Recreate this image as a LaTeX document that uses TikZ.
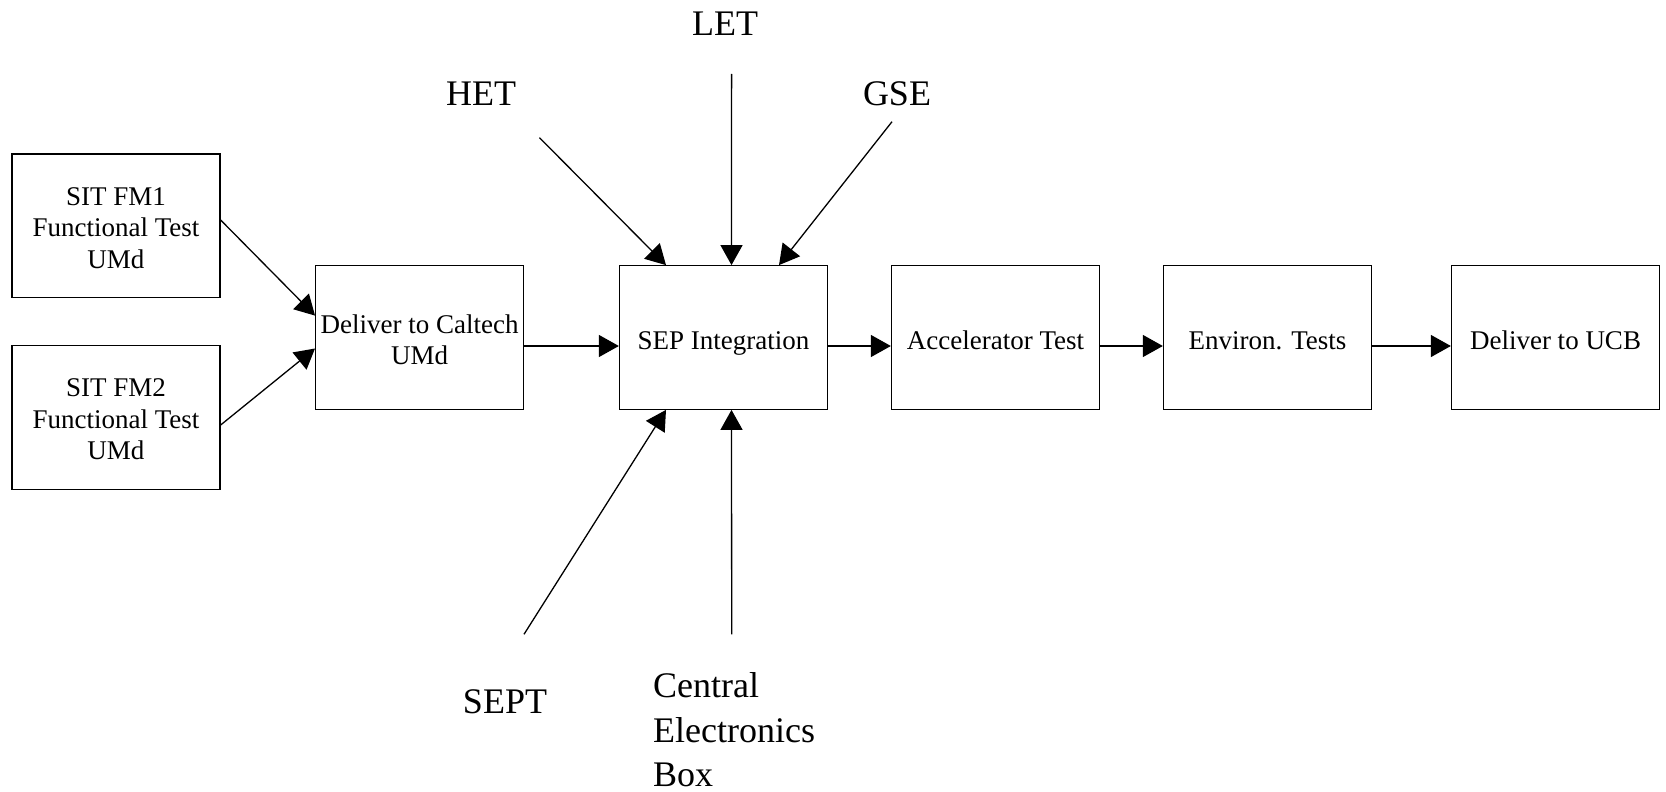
\documentclass[tikz,border=0pt]{standalone}
\usepackage{fontspec}
\setmainfont{Liberation Serif}
\usetikzlibrary{arrows.meta,calc}
\newcommand{\stk}[1]{\begin{tabular}[t]{@{}c@{}}#1\end{tabular}}
\newcommand{\stkl}[1]{\begin{tabular}[t]{@{}l@{}}#1\end{tabular}}
\tikzset{
  box/.style={draw, line width=1.3pt, minimum width=208pt, minimum height=143.5pt, inner sep=0pt},
  boxtext/.style={inner sep=0pt, font=\fontsize{27}{31.5}\selectfont},
  biglabel/.style={inner sep=0pt, font=\fontsize{36}{44.5}\selectfont},
  conn/.style={line width=1.3pt, -{Triangle[length=20pt,width=22pt]}}
}
\begin{document}
\begin{tikzpicture}[x=1pt,y=-1pt]
\useasboundingbox (0,0) rectangle (1666,792);
% boxes
\node[box, label={[boxtext, yshift=-4.45pt]center:\stk{SIT FM1\\Functional Test\\UMd}}] (fm1) at (116,225.75) {};
\node[box, label={[boxtext, yshift=-4.45pt]center:\stk{SIT FM2\\Functional Test\\UMd}}] (fm2) at (116,417.5) {};
\node[box, label={[boxtext, yshift=-5.25pt]center:\stk{Deliver to Caltech\\UMd}}] (dc) at (419.7,337.5) {};
\node[box, label={[boxtext, yshift=-5.2pt]center:\stk{SEP Integration}}] (sep) at (723.5,337.5) {};
\node[box, label={[boxtext, yshift=-5.2pt]center:\stk{Accelerator Test}}] (acc) at (995.5,337.5) {};
\node[box, label={[boxtext, yshift=-5.2pt]center:\stk{Environ. Tests}}] (env) at (1267.5,337.5) {};
\node[box, label={[boxtext, yshift=-5.2pt]center:\stk{Deliver to UCB}}] (ucb) at (1555.5,337.5) {};
% labels
\node[biglabel, anchor=base] (let) at (725,36) {LET};
\node[biglabel, anchor=base] (het) at (481,106) {HET};
\node[biglabel, anchor=base] (gse) at (897,106) {GSE};
\node[biglabel, anchor=base] (sept) at (505,713) {SEPT};
\node[biglabel, anchor=base west] (ceb) at (653,697.7) {\stkl{Central\\Electronics\\Box}};
% free ends
\coordinate (hetend) at (539.5,137.7);
\coordinate (letend) at (731.6,74);
\coordinate (gseend) at (892,121.7);
\coordinate (septend) at (524,634.3);
\coordinate (cebend) at (731.7,634.3);
% connectors
\draw[conn] ([yshift=5.75pt]fm1.east) -- ([yshift=21.9pt]dc.west);
\draw[conn] ([yshift=-7.5pt]fm2.east) -- ([yshift=-11pt]dc.west);
\draw[conn] ([yshift=-8.5pt]dc.east) -- ([yshift=-8.5pt]sep.west);
\draw[conn] ([yshift=-8.5pt]sep.east) -- ([yshift=-8.5pt]acc.west);
\draw[conn] ([yshift=-8.5pt]acc.east) -- ([yshift=-8.5pt]env.west);
\draw[conn] ([yshift=-8.5pt]env.east) -- ([yshift=-8.5pt]ucb.west);
\draw[conn] (hetend) -- ([xshift=-57.5pt]sep.north);
\draw[conn] (letend) -- ([xshift=8pt]sep.north);
\draw[conn] (gseend) -- ([xshift=55.5pt]sep.north);
\draw[conn] (septend) -- ([xshift=-57.5pt]sep.south);
\draw[conn] (cebend) -- ([xshift=8pt]sep.south);
\end{tikzpicture}
\end{document}
